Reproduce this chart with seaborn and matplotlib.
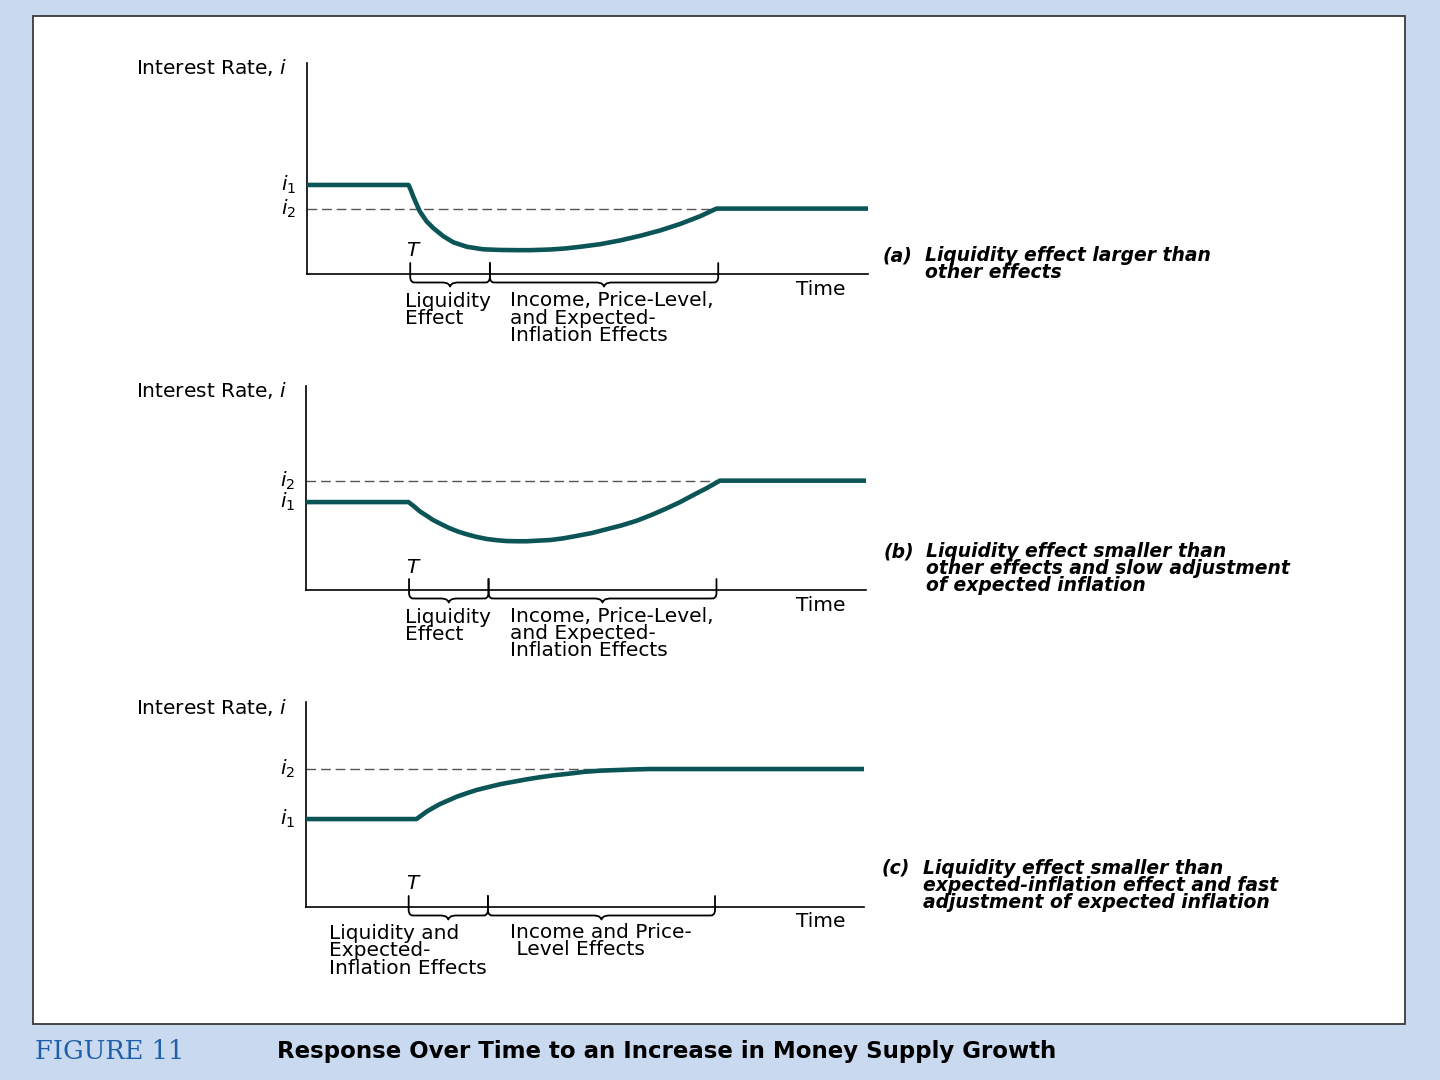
import numpy as np
import pandas as pd
import matplotlib
matplotlib.use("Agg")
import matplotlib.pyplot as plt
import matplotlib.transforms as mtransforms
from matplotlib.patches import Rectangle
import seaborn as sns

# ---------------- data (time 0..100, interest rate 0..100 on each panel) -------------
time_a = [0, 18.1, 18.5, 18.9, 19.3, 20.1, 21.3, 22.5, 24.3, 26.1, 28.5, 31.4, 34.4, 37.4,
          39.8, 43.3, 46.0, 48.7, 52.2, 55.8, 59.4, 62.9, 66.5, 70.1, 73.0, 100]
rate_a = [42.2, 42.2, 39.8, 37.0, 34.5, 29.7, 25.0, 21.8, 17.9, 15.0, 12.9, 11.7, 11.4, 11.3,
          11.3, 11.6, 12.1, 12.9, 14.1, 15.9, 18.1, 20.6, 23.7, 27.4, 31.0, 31.0]

time_b = [0, 18.3, 19.2, 20.4, 21.6, 22.7, 24.2, 25.7, 27.2, 28.7, 30.5, 32.3, 34.1, 35.8,
          37.6, 39.4, 41.5, 43.6, 45.9, 48.3, 51.0, 53.7, 56.4, 59.1, 61.7, 64.4, 66.8,
          69.2, 71.6, 73.9, 100]
rate_b = [43.1, 43.1, 41.2, 38.4, 36.3, 34.3, 32.2, 30.2, 28.6, 27.3, 26.0, 25.0, 24.4, 24.0,
          23.9, 23.9, 24.2, 24.5, 25.3, 26.5, 27.9, 29.8, 31.7, 34.0, 36.8, 40.0, 43.1,
          46.6, 50.0, 53.6, 53.6]

time_c = [0, 19.8, 20.7, 21.6, 22.8, 24.0, 25.5, 27.0, 28.8, 30.6, 32.7, 34.8, 37.2, 39.6,
          41.9, 44.3, 47.0, 49.7, 52.7, 55.7, 58.7, 61.6, 100]
rate_c = [42.9, 42.9, 44.7, 46.5, 48.4, 50.2, 52.0, 53.8, 55.5, 57.1, 58.5, 59.9, 61.1, 62.3,
          63.3, 64.2, 65.0, 65.9, 66.5, 66.8, 67.1, 67.3, 67.3]

i1_levels = [42.2, 43.1, 42.9]
i2_levels = [31.0, 53.6, 67.3]
phase_bounds = [18.4, 32.6, 73.3]          # T, end of liquidity effect, end of other effects

y_label = "Interest Rate, $i$"
x_label = "Time"
t_label = "T"
panel_tags = ["(a)", "(b)", "(c)"]
panel_desc = [
    ["Liquidity effect larger than", "other effects"],
    ["Liquidity effect smaller than", "other effects and slow adjustment",
     "of expected inflation"],
    ["Liquidity effect smaller than", "expected-inflation effect and fast",
     "adjustment of expected inflation"],
]
left_brace_text = [["Liquidity", "Effect"], ["Liquidity", "Effect"],
                   ["Liquidity and", "Expected-", "Inflation Effects"]]
right_brace_text = [["Income, Price-Level,", "and Expected-", "Inflation Effects"],
                    ["Income, Price-Level,", "and Expected-", "Inflation Effects"],
                    ["Income and Price-", " Level Effects"]]
fig_tag = "FIGURE 11"
fig_title = "Response Over Time to an Increase in Money Supply Growth"

# ---------------- style ----------------
sns.set_theme(style="white")
plt.rcParams["font.family"] = ["DejaVu Sans"]
plt.rcParams["mathtext.fontset"] = "dejavusans"
plt.rcParams["text.color"] = "black"

BG = "#C9DAF0"
LINE = "#0C5557"
W, H = 1440, 1080

fig = plt.figure(figsize=(14.4, 10.8), dpi=100, facecolor=BG)
fig.patches.append(Rectangle((33 / W, 1 - 1024 / H), (1405 - 33) / W, (1024 - 16) / H,
                             transform=fig.transFigure, facecolor="white",
                             edgecolor="#3a3a3a", lw=1.3, zorder=-5))


def fx(px):
    return px / W


def fy(py):
    return 1 - py / H


# layout (pixel boxes of each panel's axes)
boxes = [(307, 868, 63, 274), (306, 866, 386, 590), (306, 864, 702, 907)]
series = [(time_a, rate_a), (time_b, rate_b), (time_c, rate_c)]

# label positions (pixel)
ylab_y = [74, 397, 714]
tlab_y = [256, 573, 889]
time_y = [295, 611, 927]
lb_x = [405, 405, 329]
lb_y = [[307, 324], [623, 640], [939, 956, 974]]
rb_x = [510, 510, 510]
rb_y = [[306, 324, 341], [622, 639, 656], [938, 955]]
tag_x = [883, 884, 882]
desc_x = [925, 926, 923]
desc_y = [[261, 278], [557, 574, 591], [874, 891, 908]]

FS = 14.5
for k in range(3):
    l, r, t, b = boxes[k]
    ax = fig.add_axes([fx(l), fy(b), (r - l) / W, (b - t) / H])
    ax.set_facecolor("none")
    ax.set_xlim(0, 100)
    ax.set_ylim(0, 100)
    hpx = b - t

    tt, rr = series[k]
    df = pd.DataFrame({"time": tt, "rate": rr})
    # dashed reference line at i2
    meet = df["time"][np.argmin(np.abs(np.array(rr) - i2_levels[k]))]
    ax.hlines(i2_levels[k], 0, meet, colors="#555555", lw=1.0,
              linestyles=(0, (7, 3.5)), zorder=1)
    sns.lineplot(data=df, x="time", y="rate", ax=ax, color=LINE, lw=3.3,
                 estimator=None, sort=False, zorder=3)

    ax.set_xticks([])
    ax.set_yticks([])
    ax.set_xlabel("")
    ax.set_ylabel("")
    sns.despine(ax=ax, top=True, right=True)
    for s in ("left", "bottom"):
        ax.spines[s].set_color("black")
        ax.spines[s].set_linewidth(1.2)

    # i1 / i2 labels
    blend = mtransforms.blended_transform_factory(ax.transAxes, ax.transData)
    for lab, lev in (("$i_1$", i1_levels[k]), ("$i_2$", i2_levels[k])):
        ax.text(-11 / (r - l), lev, lab, transform=blend, ha="right", va="center",
                fontsize=14.5, color="black")

    # braces under the time axis
    xt = ax.get_xaxis_transform()
    up, vend, hor, tip = 11 / hpx, -4 / hpx, -8.5 / hpx, -12.5 / hpx
    for x0, x1 in zip(phase_bounds[:-1], phase_bounds[1:]):
        xm = (x0 + x1) / 2
        px_ = [x0, x0, x0 + 0.15, x0 + 0.5, x0 + 1.2, xm - 1.2, xm - 0.5, xm - 0.15, xm,
               xm + 0.15, xm + 0.5, xm + 1.2, x1 - 1.2, x1 - 0.5, x1 - 0.15, x1, x1]
        py_ = [up, vend, vend + (hor - vend) * 0.6, hor + 0.1 / hpx, hor, hor,
               hor + (tip - hor) * 0.2, hor + (tip - hor) * 0.6, tip,
               hor + (tip - hor) * 0.6, hor + (tip - hor) * 0.2, hor, hor,
               hor + 0.1 / hpx, vend + (hor - vend) * 0.6, vend, up]
        ax.plot(px_, py_, transform=xt, color="black", lw=1.3, clip_on=False,
                solid_joinstyle="round", zorder=4)

    # texts
    fig.text(fx(136), fy(ylab_y[k]), y_label, fontsize=FS, ha="left", va="baseline")
    fig.text(fx(412), fy(tlab_y[k]), t_label, fontsize=FS, style="italic",
             ha="center", va="baseline")
    fig.text(fx(845), fy(time_y[k]), x_label, fontsize=FS, ha="right", va="baseline")
    for line, yy in zip(left_brace_text[k], lb_y[k]):
        fig.text(fx(lb_x[k]), fy(yy), line, fontsize=FS, ha="left", va="baseline")
    for line, yy in zip(right_brace_text[k], rb_y[k]):
        fig.text(fx(rb_x[k]), fy(yy), line, fontsize=FS, ha="left", va="baseline")
    fig.text(fx(tag_x[k]), fy(desc_y[k][0]), panel_tags[k], fontsize=13.5, style="italic",
             weight="bold", ha="left", va="baseline")
    for line, yy in zip(panel_desc[k], desc_y[k]):
        fig.text(fx(desc_x[k]), fy(yy), line, fontsize=13.5, style="italic",
                 weight="bold", ha="left", va="baseline")

# caption
fig.text(fx(35), fy(1059), fig_tag, fontsize=18.5, family="DejaVu Serif",
         color="#1F5FA8", ha="left", va="baseline")
fig.text(fx(277), fy(1058), fig_title, fontsize=16.5, weight="bold",
         color="black", ha="left", va="baseline")

fig.savefig("out.png", dpi=100, facecolor=BG)
